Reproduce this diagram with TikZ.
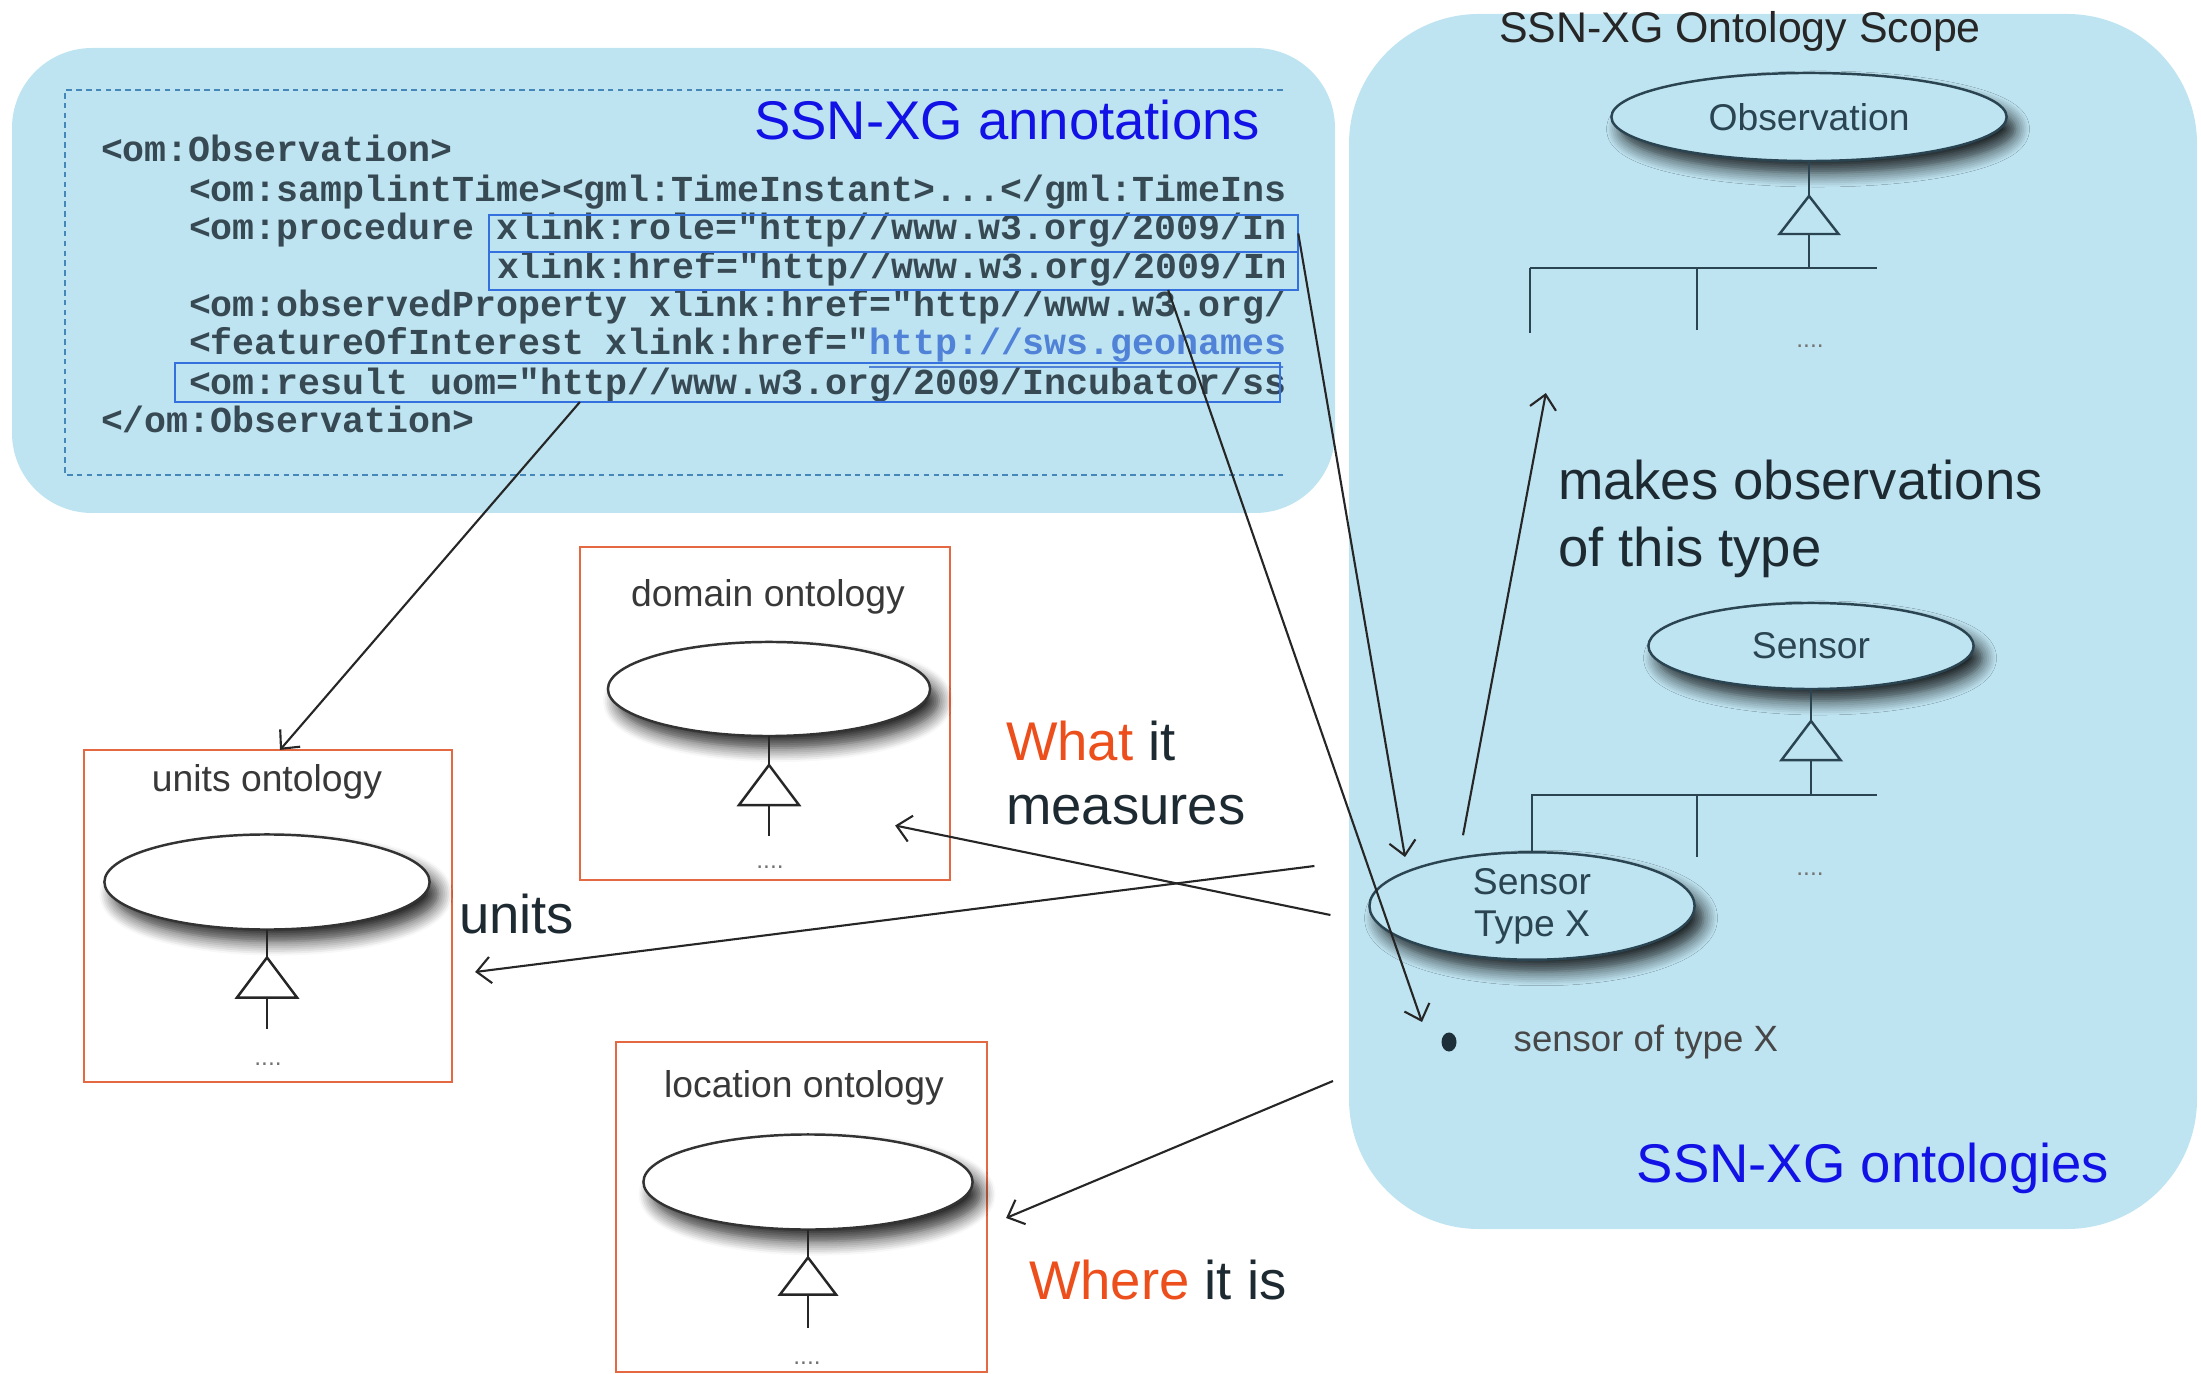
\documentclass[tikz,border=0pt]{standalone}
\usepackage{fontspec}
\setmainfont{Liberation Sans}
\setmonofont{Liberation Mono}
\usetikzlibrary{shapes.geometric,arrows.meta,shadows.blur,calc}

\definecolor{panelblue}{RGB}{191,228,241}
\definecolor{inkslate}{RGB}{42,68,82}
\definecolor{codegray}{RGB}{55,74,84}
\definecolor{hiliteblue}{RGB}{52,112,222}
\definecolor{dashblue}{RGB}{70,135,185}
\definecolor{titleblue}{RGB}{18,18,230}
\definecolor{ontoorange}{RGB}{228,104,66}
\definecolor{wordorange}{RGB}{236,78,28}
\definecolor{linkblue}{RGB}{80,130,215}
\definecolor{darktext}{RGB}{30,42,50}

\tikzset{
  panel/.style={fill=panelblue, draw=none},
  codeline/.style={anchor=mid west, inner sep=0, outer sep=0,
    font=\fontsize{10.4}{11}\selectfont\ttfamily\bfseries, text=codegray},
  hilite/.style={rectangle, draw=hiliteblue, line width=0.6pt, inner sep=0, outer sep=0},
  ontobox/.style={rectangle, draw=ontoorange, line width=0.75pt, inner sep=0, outer sep=0},
  ontotitle/.style={font=\fontsize{10.6}{12}\selectfont, text=black!78, inner sep=0},
  classell/.style={ellipse, draw=black!80, line width=0.7pt, fill=white, inner sep=0, outer sep=0,
    blur shadow={shadow xshift=0.09cm, shadow yshift=-0.12cm, shadow blur radius=0.14cm,
      shadow blur steps=8, shadow opacity=85}},
  scopeell/.style={classell, draw=inkslate, fill=panelblue, text=inkslate,
    font=\fontsize{10.6}{12}\selectfont},
  umlline/.style={line width=0.7pt, draw=black!85},
  scopeline/.style={line width=0.7pt, draw=inkslate},
  link/.style={line width=0.6pt, draw=black!85, -{Straight Barb[length=4pt,width=7.5pt]}},
  bigtext/.style={font=\fontsize{15.5}{19}\selectfont, inner sep=0, outer sep=0, text=darktext},
  dots/.style={font=\fontsize{7}{7}\selectfont, text=black!55, inner sep=0},
}

\begin{document}
\begin{tikzpicture}[x=0.01cm,y=-0.01cm]
\useasboundingbox (0,0) rectangle (2201,1374);

% background panels
\fill[panel, rounded corners=0.8cm] (12,48) rectangle (1335,513);
\fill[panel, rounded corners=1.3cm] (1349,14) rectangle (2197,1229);

% annotation panel: dashed frame, title and XML listing
\draw[dashblue, line width=0.6pt, dash pattern=on 1.6pt off 1.2pt]
  (1283,90) -- (65,90) -- (65,475) -- (1283,475);
\node[bigtext, text=titleblue] (annot) at (1007,120) {SSN-XG annotations};

\begin{scope}
  \clip (60,80) rectangle (1283,480);
  \node[codeline] (c1) at (101,152) {<om:Observation>};
  \node[codeline] (c2) at (189,192) {<om:samplintTime><gml:TimeInstant>...</gml:TimeInstant>};
  \node[codeline] (c3) at (189,230) {<om:procedure xlink:role="http//www.w3.org/2009/Incubator/ssn"};
  \node[codeline] (c4) at (497,269) {xlink:href="http//www.w3.org/2009/Incubator/ssn"};
  \node[codeline] (c5) at (189,307) {<om:observedProperty xlink:href="http//www.w3.org/2009/Incubator"};
  \node[codeline] (c6) at (189,345) {<featureOfInterest xlink:href="\textcolor{linkblue}{\underline{http://sws.geonames.org/}}"};
  \node[codeline] (c7) at (189,385) {<om:result uom="http//www.w3.org/2009/Incubator/ssn"};
  \node[codeline] (c8) at (101,423) {</om:Observation>};
\end{scope}

\node[hilite, minimum width=8.09cm, minimum height=0.37cm] (rolebox) at (893.5,233.5) {};
\node[hilite, minimum width=8.09cm, minimum height=0.38cm] (hrefbox) at (893.5,271) {};
\node[hilite, minimum width=11.05cm, minimum height=0.39cm] (resbox) at (727.5,382.5) {};

% external ontologies
\node[ontobox, minimum width=3.68cm, minimum height=3.32cm] (unitsbox) at (268,916) {};
\node[ontotitle] (unitstitle) at (267,782) {units ontology};
\node[classell, minimum width=3.25cm, minimum height=0.95cm] (unitsell) at (267,882) {};
\draw[umlline] (unitsell.south) -- ++(0,28) coordinate (unitsapex);
\draw[umlline] (unitsapex) -- ++(-30,40) -- ++(60,0) -- cycle;
\draw[umlline] ($(unitsapex)+(0,40)$) -- ++(0,31);
\node[dots] (unitsdots) at (268,1064) {....};

\node[ontobox, minimum width=3.70cm, minimum height=3.33cm] (dombox) at (765,713.5) {};
\node[ontotitle] (domtitle) at (768,597) {domain ontology};
\node[classell, minimum width=3.22cm, minimum height=0.94cm] (domell) at (769,689) {};
\draw[umlline] (domell.south) -- ++(0,29) coordinate (domapex);
\draw[umlline] (domapex) -- ++(-30,40) -- ++(60,0) -- cycle;
\draw[umlline] ($(domapex)+(0,40)$) -- ++(0,31);
\node[dots] (domdots) at (770,867) {....};

\node[ontobox, minimum width=3.71cm, minimum height=3.30cm] (locbox) at (801.5,1207) {};
\node[ontotitle] (loctitle) at (804,1088) {location ontology};
\node[classell, minimum width=3.29cm, minimum height=0.95cm] (locell) at (808,1182) {};
\draw[umlline] (locell.south) -- ++(0,28) coordinate (locapex);
\draw[umlline] (locapex) -- ++(-28,37) -- ++(56,0) -- cycle;
\draw[umlline] ($(locapex)+(0,37)$) -- ++(0,33);
\node[dots] (locdots) at (807,1363) {....};

% SSN-XG ontology scope
\node[font=\fontsize{12.2}{14}\selectfont, text=black!85, inner sep=0] (scopetitle) at (1740,31) {SSN-XG Ontology Scope};

\node[scopeell, minimum width=3.95cm, minimum height=0.88cm] (obs) at (1809,117) {Observation};
\draw[scopeline] (obs.south) -- ++(0,35) coordinate (obsapex);
\draw[scopeline] (obsapex) -- ++(-29.5,38) -- ++(59,0) -- cycle;
\draw[scopeline] ($(obsapex)+(0,38)$) -- ++(0,34) coordinate (obsjoin);
\draw[scopeline] ([xshift=-2.79cm]obsjoin) -- ([xshift=0.68cm]obsjoin);
\draw[scopeline] ([xshift=-2.79cm]obsjoin) -- ++(0,65) coordinate (obsleafA);
\draw[scopeline] ([xshift=-1.12cm]obsjoin) -- ++(0,62);
\node[dots] (obsdots) at (1810,346) {....};

\node[scopeell, minimum width=3.25cm, minimum height=0.86cm] (sensor) at (1811,646) {Sensor};
\node[scopeell, minimum width=3.25cm, minimum height=0.94cm, align=center] (stx) at (1532,906) {Sensor\\Type X};
\draw[scopeline] (sensor.south) -- ++(0,32) coordinate (sensapex);
\draw[scopeline] (sensapex) -- ++(-29.5,39) -- ++(59,0) -- cycle;
\draw[scopeline] ($(sensapex)+(0,39)$) -- ++(0,35) coordinate (sensjoin);
\draw[scopeline] (stx.north) -- (stx.north |- sensjoin) -- ([xshift=0.66cm]sensjoin);
\draw[scopeline] ([xshift=-1.14cm]sensjoin) -- ++(0,62);
\node[dots] (sensdots) at (1810,874) {....};

\node[ellipse, fill=inkslate!70!black, inner sep=0, minimum width=0.15cm, minimum height=0.19cm] (inst) at (1449,1042) {};
\node[anchor=west, font=\fontsize{10.4}{12}\selectfont, text=black!72, inner sep=0] (instlabel) at (1513,1042) {sensor of type X};

\node[bigtext, text=titleblue] (ontlabel) at (1873,1168) {SSN-XG ontologies};

\node[bigtext, anchor=base west] (mk1) at (1558,500) {makes observations};
\node[bigtext, anchor=base west] (mk2) at (1558,567) {of this type};

% relation labels
\node[bigtext, anchor=west] (what) at (1006,741) {\textcolor{wordorange}{What} it};
\node[bigtext, anchor=west] (meas) at (1006,810) {measures};
\node[bigtext, anchor=west] (unitsword) at (459,914) {units};
\node[bigtext, anchor=west] (where) at (1029,1280) {\textcolor{wordorange}{Where} it is};

% connectors
\coordinate (unitsfrom) at ($(stx.west)+(-55,-40)$);
\coordinate (measfrom) at ($(stx.west)+(-39,9)$);
\coordinate (wherefrom) at ($(inst)+(-116,39)$);

\draw[link] (rolebox.east) -- ($(stx.center)+(-127,-49)$);
\draw[link] ([xshift=-1.3cm]hrefbox.south east) -- ($(inst)+(-27,-20)$);
\draw[link] ([xshift=-1.475cm]resbox.south) -- ($(unitsbox.north)+(12,0)$);
\draw[link] (unitsfrom) -- ($(unitsbox.east)+(23,56)$);
\draw[link] (measfrom) -- ($(dombox.east)+(-55,112)$);
\draw[link] (wherefrom) -- ($(locbox.east)+(19,11)$);
\draw[link] ($(stx.north)+(-69,-17)$) -- ($(obsleafA)+(16,60)$);
\end{tikzpicture}
\end{document}
